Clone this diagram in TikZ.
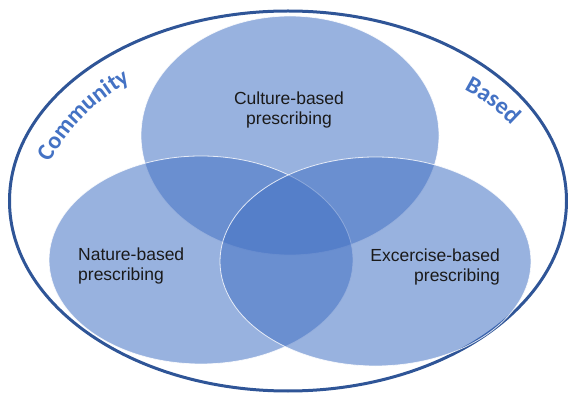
\documentclass[tikz,border=0pt]{standalone}
\usepackage{fontspec}
\setmainfont{Liberation Sans}
\newfontfamily\arcfont{Carlito}
\usetikzlibrary{positioning}
\usetikzlibrary{shapes.geometric}
\usetikzlibrary{decorations.text}
\definecolor{setblue}{HTML}{4472C4}
\definecolor{rimblue}{HTML}{2F5597}
\definecolor{labelgrey}{HTML}{1A1A1A}
\tikzset{
    setellipse/.style = {ellipse, fill=setblue, fill opacity=0.55, draw=white,
        draw opacity=0.8, line width=0.8pt, inner sep=0pt, outer sep=0pt},
    rim/.style = {ellipse, draw=rimblue, line width=3pt, inner sep=0pt},
    setlabel/.style = {text=labelgrey, font=\fontsize{17.5}{20}\selectfont, inner sep=0pt},
    arclabel/.style = {decorate, decoration={text along path, text align=center,
        text color=setblue, text={|\arcfont\bfseries\fontsize{24}{24}\selectfont|#1}}}}

\begin{document}
\begin{tikzpicture}[x=1pt, y=1pt]
    \useasboundingbox (0,0) rectangle (568,394);
    \node (outer) [rim, minimum width=557pt, minimum height=380pt] at (288,193) {};
    \node (culture) [setellipse, minimum width=298pt, minimum height=239pt] at (290,258.5) {};
    \node (nature) [setellipse, minimum width=304pt, minimum height=208pt] at (201,134) {};
    \node (exercise) [setellipse, minimum width=311pt, minimum height=209pt] at (375.5,132.5) {};
    \node (culturetext) [setlabel, align=center] at (289,284) {Culture-based\\prescribing};
    \node (naturetext) [setlabel, align=left, anchor=west] at (78,128) {Nature-based\\prescribing};
    \node (exercisetext) [setlabel, align=right, anchor=east] at (500,127) {Excercise-based\\prescribing};
    % words along the rim
    \coordinate (commstart) at (44,222);
    \coordinate (commend) at (140,318);
    \coordinate (basedstart) at (448,312);
    \coordinate (basedend) at (524,256);
    \path [arclabel=Community] (commstart) to[bend left=16] (commend);
    \path [arclabel=Based] (basedstart) to[bend left=12] (basedend);
\end{tikzpicture}
\end{document}
